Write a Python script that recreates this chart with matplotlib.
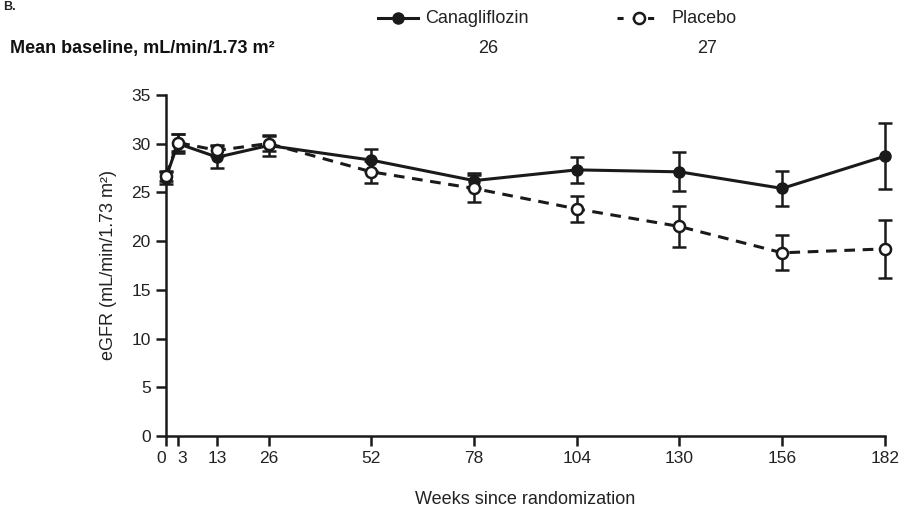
import matplotlib
matplotlib.use('Agg')
from matplotlib import pyplot as plt
from matplotlib.lines import Line2D

plt.rcParams['font.family'] = ['Liberation Sans', 'DejaVu Sans']

weeks = [0, 3, 13, 26, 52, 78, 104, 130, 156, 182]
cana = [26.5, 30.0, 28.6, 29.8, 28.3, 26.2, 27.3, 27.1, 25.4, 28.7]
cana_err = [0.6, 1.0, 1.1, 1.1, 1.1, 0.8, 1.3, 2.0, 1.8, 3.4]
plac = [26.7, 30.1, 29.3, 30.0, 27.1, 25.4, 23.3, 21.5, 18.8, 19.2]
plac_err = [0.5, 0.9, 0.6, 0.8, 1.1, 1.4, 1.3, 2.1, 1.8, 3.0]
baseline = ['26', '27']
xticks = [0, 3, 13, 26, 52, 78, 104, 130, 156, 182]
yticks = [0, 5, 10, 15, 20, 25, 30, 35]

ink = '#1a1a1a'
txt = '#222222'

fig = plt.figure(figsize=(9.02, 5.15), dpi=100)
ax = fig.add_axes([0.184, 0.153, 0.797, 0.663])

# canagliflozin (solid, filled) under placebo (dashed, open markers)
ca = ax.errorbar(weeks, cana, yerr=cana_err, color=ink, lw=2.2, ls='-',
                 marker='o', ms=8, mfc=ink, mec=ink,
                 capsize=5, elinewidth=1.8, capthick=1.8, zorder=3)
pl = ax.errorbar(weeks, plac, yerr=plac_err, color=ink, lw=2.2, ls=(0, (3.5, 2.5)),
                 marker='o', ms=8, mfc='white', mec=ink, mew=1.8,
                 capsize=5, elinewidth=1.8, capthick=1.8, zorder=4)
for cont in [pl, ca]:
    for art in cont.get_children():
        art.set_clip_on(False)

ax.set_xlim(0, 182)
ax.set_ylim(0, 35)
ax.set_xticks(xticks)
ax.set_yticks(yticks)
ax.spines['top'].set_visible(False)
ax.spines['right'].set_visible(False)
for s in ['left', 'bottom']:
    ax.spines[s].set_linewidth(1.8)
    ax.spines[s].set_color(ink)
ax.tick_params(direction='out', length=7, width=1.8, labelsize=12.5, color=ink,
               labelcolor=txt, pad=4)
# keep "0" and "3" apart
xl = ax.get_xticklabels()
xl[0].set_horizontalalignment('right')
xl[1].set_horizontalalignment('left')

ax.set_ylabel('eGFR (mL/min/1.73 m²)', fontsize=13, color=txt, labelpad=10)
ax.set_xlabel('Weeks since randomization', fontsize=13, color=txt, labelpad=18)

# header / legend
fig.text(0.003, 0.998, 'B.', fontsize=9, fontweight='bold', va='top', ha='left', color=txt)
fig.text(0.011, 0.905, 'Mean baseline, mL/min/1.73 m²', fontsize=13,
         fontweight='bold', va='center', ha='left', color='#111111')

fig.add_artist(Line2D([0.419, 0.463], [0.965, 0.965], color=ink, lw=2.2,
                      transform=fig.transFigure))
fig.add_artist(Line2D([0.441], [0.965], color=ink, marker='o', ms=8,
                      transform=fig.transFigure))
fig.text(0.471, 0.965, 'Canagliflozin', fontsize=13, va='center', ha='left', color=txt)
fig.text(0.541, 0.905, baseline[0], fontsize=13, va='center', ha='center', color=txt)

fig.add_artist(Line2D([0.684, 0.733], [0.965, 0.965], color=ink, lw=2.2,
                      ls=(0, (2, 3)), transform=fig.transFigure))
fig.add_artist(Line2D([0.708], [0.965], color=ink, marker='o', ms=8, mfc='white',
                      mew=1.8, transform=fig.transFigure))
fig.text(0.745, 0.965, 'Placebo', fontsize=13, va='center', ha='left', color=txt)
fig.text(0.784, 0.905, baseline[1], fontsize=13, va='center', ha='center', color=txt)

fig.savefig('out.png', dpi=100)
